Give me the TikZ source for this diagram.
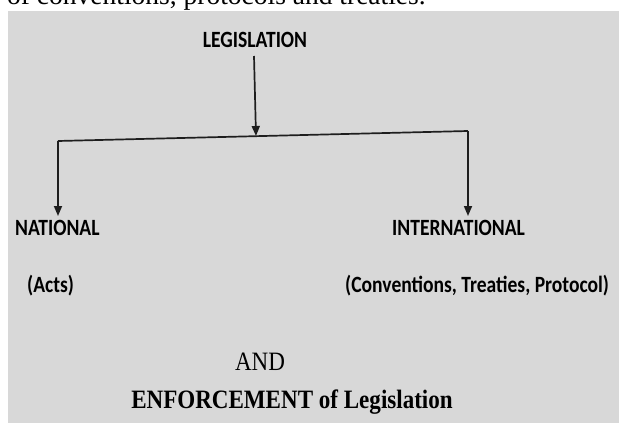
\documentclass[tikz,border=0pt]{standalone}
\usepackage{fontspec}
\usepackage{graphicx}
\setmainfont{Liberation Serif}
\newfontfamily\calib{Carlito}
\usetikzlibrary{arrows.meta}
\definecolor{bggrey}{HTML}{D8D8D8}
\definecolor{linecol}{HTML}{1E1E1E}
\newcommand{\narrow}[1]{\scalebox{0.84}[1]{#1}}
\newcommand{\narrowser}[1]{\scalebox{0.87}[1]{#1}}
\tikzset{
  lbl/.style={font=\calib\bfseries\fontsize{23.3}{26}\selectfont, inner sep=0pt, text=black},
  serifbig/.style={font=\fontsize{26.5}{30}\selectfont, inner sep=0pt, text=black},
  conn/.style={draw=linecol, line width=1.7pt},
  arr/.style={conn, -{Triangle[length=10pt,width=8pt]}}
}
\begin{document}
\begin{tikzpicture}[x=1pt,y=-1pt]
\useasboundingbox (0,0) rectangle (619,423);
\clip (0,0) rectangle (619,423);
\fill[white] (0,0) rectangle (619,423);
\fill[bggrey] (8,11) rectangle (619,423);
% clipped text from page above
\node[anchor=base west, inner sep=0pt, font=\fontsize{27.5}{30}\selectfont] (toptext) at (7,5) {of conventions, protocols and treaties.};
% labels
\node[lbl, anchor=base] (leg) at (255,47) {\narrow{LEGISLATION}};
\node[lbl, anchor=base west] (nat) at (15,235) {\narrow{NATIONAL}};
\node[lbl, anchor=base west] (intl) at (392,235) {\narrow{INTERNATIONAL}};
\node[lbl, anchor=base west] (acts) at (27,292) {\narrow{(Acts)}};
\node[lbl, anchor=base west] (conv) at (345,292) {\narrow{(Conventions, Treaties, Protocol)}};
\node[serifbig, anchor=base] (and) at (260,370) {\narrowser{AND}};
\node[serifbig, anchor=base, font=\bfseries\fontsize{26.5}{30}\selectfont] (enf) at (292,408) {\narrowser{ENFORCEMENT of Legislation}};
% connectors
\coordinate (jl) at (58,141);
\coordinate (jr) at (468,131);
\coordinate (jm) at (256,136);
\coordinate (tl) at (58,216);
\coordinate (tr) at (468,216);
\coordinate (ls) at (254,56);
\draw[conn] (jl) -- (jr);
\draw[arr] (ls) -- (jm);
\draw[arr] (jl) -- (tl);
\draw[arr] (jr) -- (tr);
\end{tikzpicture}
\end{document}
